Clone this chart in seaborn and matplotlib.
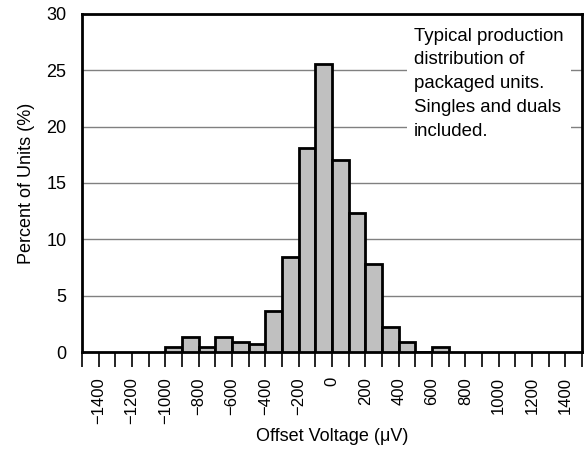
import numpy as np
import matplotlib
matplotlib.use("Agg")
import matplotlib.pyplot as plt
import seaborn as sns

# Offset-voltage histogram: 100 uV bins, percent of units per bin
bin_left_uv = [-1000, -900, -800, -700, -600, -500, -400, -300, -200, -100,
               0, 100, 200, 300, 400, 500, 600]
percent_units = [0.4, 1.3, 0.4, 1.3, 0.9, 0.75, 3.65, 8.4, 18.1, 25.55,
                 17.05, 12.35, 7.8, 2.2, 0.9, 0.0, 0.4]
x_tick_labels = [-1400, -1200, -1000, -800, -600, -400, -200, 0,
                 200, 400, 600, 800, 1000, 1200, 1400]
y_ticks = [0, 5, 10, 15, 20, 25, 30]
note = "Typical production\ndistribution of\npackaged units.\nSingles and duals\nincluded."

sns.set_theme(style="white")
plt.rcParams["font.family"] = ["Liberation Sans", "DejaVu Sans"]
plt.rcParams.update({"text.color": "black", "axes.labelcolor": "black",
                     "xtick.color": "black", "ytick.color": "black"})

fig = plt.figure(figsize=(5.85, 4.51), dpi=100)
ax = fig.add_axes([0.140, 0.2195, 0.855, 0.7495])

width = 100
centers = [b + width / 2 for b in bin_left_uv]
edges = list(bin_left_uv) + [bin_left_uv[-1] + width]
sns.histplot(x=centers, weights=percent_units, bins=edges, ax=ax,
             color="#c0c0c0", edgecolor="black", linewidth=2, alpha=1, zorder=3)

ax.set_xlim(-1500, 1500)
ax.set_ylim(0, 30)
ax.set_xticks(np.arange(-1500, 1501, 100), minor=True)
ax.set_xticks(x_tick_labels)
ax.set_xticklabels(["\u2212" + str(abs(v)) if v < 0 else str(v) for v in x_tick_labels],
                   rotation=90, fontsize=12)
ax.tick_params(axis="x", which="both", direction="out", length=11, width=1.2,
               color="black", bottom=True, pad=7)
ax.set_yticks(y_ticks)
ax.set_yticklabels([str(v) for v in y_ticks], fontsize=13)
ax.tick_params(axis="y", length=0, pad=11)

ax.yaxis.grid(True, color="#808080", linewidth=1, zorder=0)
ax.set_axisbelow(True)
for s in ax.spines.values():
    s.set_color("black")
    s.set_linewidth(2)
    s.set_visible(True)

ax.set_xlabel("Offset Voltage (\u03bcV)", fontsize=13, labelpad=3)
ax.set_ylabel("Percent of Units (%)", fontsize=13, labelpad=8)

ax.text(0.664, 0.96, note, transform=ax.transAxes, ha="left", va="top",
        fontsize=13.4, linespacing=1.52, zorder=5,
        bbox=dict(facecolor="white", edgecolor="none", pad=5))

fig.savefig("out.png", dpi=100)
